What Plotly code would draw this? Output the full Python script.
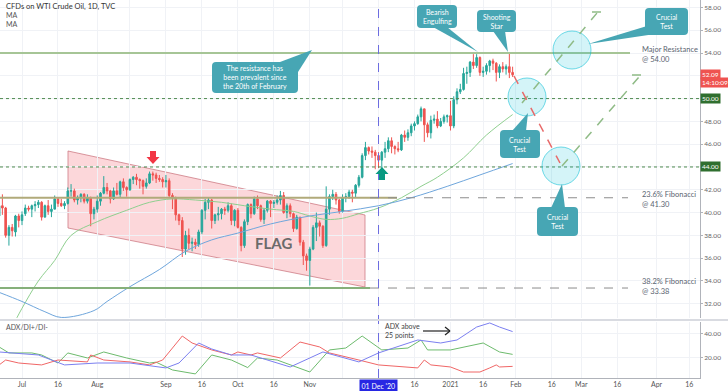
import plotly.graph_objects as go
import pandas as pd

# ---------------- DATA ----------------
dates = pd.bdate_range("2020-06-22", "2021-01-29")
dates = dates[~dates.isin(pd.to_datetime(["2020-12-25", "2021-01-01"]))]

open_ = [
    # Jun 22-30
    39.7, 40.6, 40.4, 38.0, 38.7, 38.3, 39.7,
    # Jul
    39.3, 39.9, 40.4, 40.3, 40.6, 40.7, 40.9, 39.6, 40.6, 40.1, 40.3, 41.2, 40.8, 40.6, 40.8, 41.9, 41.9, 41.1, 41.3, 41.6, 41.0, 41.3, 39.9,
    # Aug
    40.3, 41.0, 41.7, 42.2, 41.9, 41.2, 41.9, 41.6, 42.7, 42.2, 42.0, 42.9, 43.1, 42.9, 42.8, 42.3, 42.6, 43.4, 43.3, 43.0, 42.9,
    # Sep
    42.7, 42.8, 41.5, 41.3, 39.8, 39.3, 36.8, 38.0, 37.3, 37.4, 37.2, 38.3, 40.2, 40.9, 41.1, 39.3, 39.8, 39.9, 40.3, 40.2, 40.6, 39.3,
    # Oct
    40.2, 38.7, 37.1, 39.2, 40.7, 39.9, 41.2, 40.6, 39.4, 40.2, 41.0, 40.8, 40.9, 41.1, 41.5, 40.0, 40.6, 39.9, 38.6, 39.6, 37.4, 36.2,
    # Nov
    35.8, 36.8, 38.7, 39.1, 38.8, 37.1, 40.3, 41.4, 41.6, 41.1, 40.1, 41.3, 41.4, 41.8, 41.7, 42.4, 43.1, 45.0, 45.7, 45.4, 45.3,
    # Dec
    45.0, 44.6, 45.3, 45.6, 46.3, 45.8, 45.6, 45.5, 46.8, 46.6, 47.0, 47.6, 47.8, 48.4, 49.1, 47.7, 47.0, 48.1, 48.2, 47.6, 48.0, 48.4,
    # Jan
    48.5, 47.6, 49.9, 50.6, 50.8, 52.2, 52.3, 53.2, 52.9, 53.6, 52.3, 52.4, 52.9, 53.3, 53.1, 52.3, 52.8, 52.6, 52.8, 52.3,
]
high = [
    40.8, 41.6, 40.5, 38.9, 39.0, 39.8, 39.9,
    40.1, 40.7, 40.6, 40.7, 41.0, 41.1, 41.0, 40.7, 41.1, 40.7, 41.5, 41.3, 41.2, 41.0, 42.2, 42.5, 42.1, 41.5, 41.7, 41.7, 41.6, 41.4, 40.5,
    41.5, 41.8, 43.2, 42.6, 42.0, 42.2, 42.6, 42.8, 43.0, 42.3, 43.0, 43.2, 43.4, 43.0, 42.9, 43.0, 43.6, 43.6, 43.5, 43.3, 43.1,
    43.3, 43.0, 41.7, 41.4, 39.9, 39.6, 38.4, 38.6, 37.8, 37.7, 38.5, 40.3, 41.2, 41.3, 41.2, 39.9, 40.5, 40.4, 40.5, 40.9, 40.8, 40.3,
    40.4, 38.8, 39.4, 40.8, 40.8, 41.4, 41.5, 40.7, 40.4, 41.1, 41.1, 41.1, 41.5, 41.9, 41.8, 40.8, 40.8, 40.0, 39.8, 39.6, 37.6, 36.4,
    37.0, 38.9, 40.0, 39.3, 38.9, 42.3, 41.6, 42.0, 41.8, 41.2, 41.6, 41.7, 42.0, 42.0, 42.5, 43.3, 45.2, 46.2, 45.8, 45.8, 45.5,
    45.3, 45.4, 46.2, 46.6, 46.6, 45.9, 46.2, 46.9, 47.2, 47.3, 47.8, 48.0, 48.6, 49.3, 49.1, 47.9, 48.5, 48.6, 48.9, 48.3, 48.6, 48.6,
    49.8, 50.2, 50.9, 51.3, 52.7, 52.8, 53.3, 53.9, 53.9, 53.7, 52.8, 53.1, 53.4, 53.5, 53.2, 53.0, 53.2, 53.0, 54.0, 52.8,
]
low = [
    39.3, 39.8, 37.8, 37.1, 37.9, 37.9, 38.7,
    38.9, 39.7, 40.1, 39.6, 40.1, 40.4, 39.3, 39.6, 39.8, 39.6, 40.3, 40.5, 40.5, 40.3, 40.7, 41.4, 40.9, 40.7, 40.9, 40.8, 40.8, 38.8, 39.4,
    40.0, 40.6, 41.6, 41.6, 40.8, 41.1, 41.5, 41.3, 41.9, 41.4, 41.9, 42.5, 42.4, 42.1, 41.6, 42.1, 42.5, 42.8, 42.6, 42.7, 42.2,
    42.2, 41.3, 40.3, 39.3, 38.9, 36.1, 36.3, 36.8, 36.6, 36.8, 37.0, 38.1, 39.4, 40.3, 38.6, 39.0, 39.3, 39.4, 39.8, 40.0, 38.9, 38.8,
    38.6, 36.6, 36.9, 38.9, 39.5, 39.8, 40.3, 39.2, 39.0, 40.0, 39.6, 40.4, 40.7, 40.7, 39.9, 39.5, 39.6, 38.3, 38.5, 37.1, 35.4, 34.9,
    33.6, 36.7, 37.5, 37.9, 36.9, 37.0, 39.8, 41.1, 40.7, 39.9, 40.0, 40.9, 41.2, 40.9, 41.3, 42.2, 43.0, 44.6, 45.1, 44.8, 43.8,
    43.9, 43.9, 44.8, 45.3, 45.2, 45.1, 45.3, 45.4, 46.2, 46.3, 46.7, 47.2, 47.7, 48.0, 46.2, 46.6, 46.5, 47.8, 47.4, 47.5, 47.8, 47.9,
    47.2, 47.4, 49.5, 50.4, 50.7, 51.3, 51.9, 52.6, 52.7, 52.0, 51.9, 52.1, 52.3, 52.5, 51.5, 51.8, 52.3, 52.1, 51.8, 51.9,
]
close = [
    40.6, 40.4, 38.0, 38.7, 38.4, 39.7, 39.3,
    39.8, 40.4, 40.3, 40.6, 40.7, 40.9, 39.6, 40.6, 40.1, 40.3, 41.2, 40.8, 40.6, 40.8, 41.9, 41.9, 41.1, 41.3, 41.6, 41.0, 41.3, 39.9, 40.3,
    41.0, 41.7, 42.2, 41.9, 41.2, 41.9, 41.6, 42.7, 42.2, 42.0, 42.9, 43.1, 42.9, 42.8, 42.3, 42.6, 43.4, 43.3, 43.0, 42.9, 42.7,
    42.8, 41.5, 41.3, 39.8, 39.3, 36.8, 38.0, 37.3, 37.4, 37.2, 38.3, 40.2, 40.9, 41.1, 39.3, 39.8, 39.9, 40.3, 40.2, 40.6, 39.3, 40.2,
    38.7, 37.1, 39.2, 40.7, 39.9, 41.2, 40.6, 39.4, 40.2, 41.0, 40.8, 40.9, 41.1, 41.5, 40.0, 40.6, 39.9, 38.6, 39.6, 37.4, 36.2, 35.8,
    36.8, 38.7, 39.1, 38.8, 37.1, 40.3, 41.4, 41.6, 41.1, 40.1, 41.3, 41.4, 41.8, 41.7, 42.4, 43.1, 45.0, 45.7, 45.4, 45.3, 45.0,
    44.6, 45.3, 45.6, 46.3, 45.8, 45.6, 45.5, 46.8, 46.6, 47.0, 47.6, 47.8, 48.4, 49.1, 47.7, 47.0, 48.1, 48.2, 47.6, 48.0, 48.4, 48.5,
    47.6, 49.9, 50.6, 50.8, 52.2, 52.3, 53.2, 52.9, 53.6, 52.3, 52.4, 52.9, 53.3, 53.1, 52.3, 52.8, 52.6, 52.8, 52.3, 52.09,
]

ma50_dates = ["2020-06-22", "2020-06-26", "2020-07-01", "2020-07-08", "2020-07-15", "2020-07-22", "2020-08-03",
              "2020-08-14", "2020-08-25", "2020-09-03", "2020-09-14", "2020-09-24", "2020-10-05", "2020-10-15",
              "2020-10-26", "2020-11-02", "2020-11-09", "2020-11-16", "2020-11-23", "2020-12-01", "2020-12-10",
              "2020-12-18", "2020-12-28", "2021-01-08", "2021-01-19", "2021-01-29"]
ma50_vals = [28.0, 30.0, 31.6, 34.0, 35.8, 38.0, 39.2, 40.2, 40.9, 41.2, 41.1, 40.9, 40.6, 40.3,
             40.1, 39.7, 39.4, 39.5, 39.9, 40.4, 41.3, 42.3, 43.1, 44.8, 46.8, 48.6]

ma100_dates = ["2020-06-22", "2020-07-01", "2020-07-10", "2020-07-17", "2020-07-31", "2020-08-06", "2020-08-17",
               "2020-08-28", "2020-09-09", "2020-09-21", "2020-10-01", "2020-10-15", "2020-11-02", "2020-11-16",
               "2020-12-01", "2020-12-15", "2020-12-31", "2021-01-15", "2021-01-29"]
ma100_vals = [33.0, 32.2, 31.3, 30.8, 31.4, 32.2, 33.5, 35.0, 36.6, 37.6, 38.2, 39.0, 39.7, 40.1,
              40.6, 41.3, 42.3, 43.3, 44.3]

adx_dates = ["2020-06-22", "2020-07-08", "2020-07-20", "2020-08-03", "2020-08-17", "2020-09-01", "2020-09-07",
             "2020-09-15", "2020-09-21", "2020-09-29", "2020-10-07", "2020-10-23", "2020-11-06", "2020-11-23",
             "2020-12-01", "2020-12-17", "2020-12-29", "2021-01-06", "2021-01-14", "2021-01-20", "2021-01-25",
             "2021-01-29"]
adx_vals = [25, 22.5, 14.2, 15.8, 15.8, 11.7, 15.8, 32.5, 27.5, 22.5, 22.5, 12.5, 25, 16.7,
            24.2, 35, 32.5, 35, 45.8, 49.2, 45.8, 42]

dip_dates = ["2020-06-22", "2020-06-25", "2020-07-06", "2020-07-09", "2020-07-16", "2020-07-21", "2020-07-29",
             "2020-08-05", "2020-08-14", "2020-08-25", "2020-08-27", "2020-09-03", "2020-09-14", "2020-09-21",
             "2020-09-29", "2020-10-06", "2020-10-09", "2020-10-19", "2020-11-02", "2020-11-10", "2020-11-17",
             "2020-11-24", "2020-12-02", "2020-12-14", "2020-12-18", "2020-12-22", "2021-01-04", "2021-01-08",
             "2021-01-18", "2021-01-25", "2021-01-29"]
dip_vals = [29.2, 24.2, 24.2, 22.5, 15.8, 24.2, 20, 25, 20, 15.8, 16.5, 10, 6.7, 22.5,
            18.3, 12, 20, 18.3, 8.3, 26.7, 28.3, 38.3, 26.7, 28.3, 35, 26.7, 26.7, 29.2,
            32.5, 25, 23]

dim_dates = ["2020-06-22", "2020-06-24", "2020-06-30", "2020-07-09", "2020-07-16", "2020-07-29", "2020-07-30",
             "2020-08-05", "2020-08-17", "2020-08-25", "2020-08-31", "2020-09-02", "2020-09-08", "2020-09-11",
             "2020-09-21", "2020-09-29", "2020-10-01", "2020-10-07", "2020-10-09", "2020-10-20", "2020-10-28",
             "2020-11-05", "2020-11-10", "2020-11-23", "2020-12-01", "2020-12-17", "2020-12-21", "2020-12-23",
             "2021-01-04", "2021-01-08", "2021-01-15", "2021-01-20", "2021-01-22", "2021-01-25", "2021-01-29"]
dim_vals = [14.2, 18.3, 15.8, 14.2, 18.3, 16.7, 22.5, 18.3, 16.7, 14.2, 18.3, 25, 38.3, 32.5,
            26.7, 22.5, 25, 22.5, 24.2, 20, 33.3, 29.2, 24.2, 18.3, 14.2, 11.7, 18.3, 14.2,
            12.5, 8.3, 8.3, 11.7, 14.2, 12.5, 13]

price_ticks = [32, 34, 36, 38, 40, 42, 44, 46, 48, 50, 52, 54, 56, 58]
adx_ticks = [20, 40]
x_tickvals = ["2020-07-01", "2020-07-16", "2020-08-03", "2020-08-17", "2020-09-01", "2020-09-16", "2020-10-01",
              "2020-10-16", "2020-11-02", "2020-11-16", "2020-12-01", "2020-12-16", "2021-01-04", "2021-01-18",
              "2021-02-01", "2021-02-16", "2021-03-01", "2021-03-16", "2021-04-01", "2021-04-16"]
x_ticktext = ["Jul", "16", "Aug", "", "Sep", "16", "Oct", "16", "Nov", "", "", "16", "2021", "16",
              "Feb", "16", "Mar", "16", "Apr", "16"]

resistance = 54.00
level_50 = 50.00
level_44 = 44.00
fib_236 = 41.30
fib_382 = 33.38
last_price = 52.09

# ---------------- STYLE HELPERS ----------------
W, H = 700.0, 378.0
UP, DN = "#26a69a", "#ef5350"
GRID = "#f0f2f6"
TEAL = "#47a6b4"
FONT = "Lato, 'Open Sans', sans-serif"


def px(x):
    return x / W


def py(y):
    return 1 - y / H


fig = go.Figure()

fig.add_trace(go.Candlestick(
    x=dates, open=open_, high=high, low=low, close=close,
    increasing=dict(line=dict(color=UP, width=1), fillcolor=UP),
    decreasing=dict(line=dict(color=DN, width=1), fillcolor=DN),
    whiskerwidth=0, xaxis="x", yaxis="y", showlegend=False, hoverinfo="skip"))

fig.add_trace(go.Scatter(x=ma50_dates, y=ma50_vals, mode="lines", line=dict(color="#8fcf8f", width=1, shape="spline"),
                         xaxis="x", yaxis="y", showlegend=False, hoverinfo="skip"))
fig.add_trace(go.Scatter(x=ma100_dates, y=ma100_vals, mode="lines", line=dict(color="#6fa6dc", width=1, shape="spline"),
                         xaxis="x", yaxis="y", showlegend=False, hoverinfo="skip"))

fig.add_trace(go.Scatter(x=dip_dates, y=dip_vals, mode="lines", line=dict(color="#6dbb6d", width=1),
                         xaxis="x", yaxis="y2", showlegend=False, hoverinfo="skip"))
fig.add_trace(go.Scatter(x=dim_dates, y=dim_vals, mode="lines", line=dict(color="#f06666", width=1),
                         xaxis="x", yaxis="y2", showlegend=False, hoverinfo="skip"))
fig.add_trace(go.Scatter(x=adx_dates, y=adx_vals, mode="lines", line=dict(color="#7b7ff0", width=1),
                         xaxis="x", yaxis="y2", showlegend=False, hoverinfo="skip"))

shapes = []
annots = []


def hline(price, x0, x1, color, width=1, dash="solid"):
    shapes.append(dict(type="line", xref="paper", yref="y", x0=px(x0), x1=px(x1), y0=price, y1=price,
                       line=dict(color=color, width=width, dash=dash)))


def poly(points, fill, line_color=None, width=0, layer="above"):
    p = "M " + " L ".join(f"{px(x):.5f},{py(y):.5f}" for x, y in points) + " Z"
    shapes.append(dict(type="path", xref="paper", yref="paper", path=p, fillcolor=fill,
                       line=dict(color=line_color or fill, width=width), layer=layer))


def seg(x0, y0, x1, y1, color, width=1, dash="solid"):
    shapes.append(dict(type="line", xref="paper", yref="paper", x0=px(x0), y0=py(y0), x1=px(x1), y1=py(y1),
                       line=dict(color=color, width=width, dash=dash)))


def rrect(x0, y0, x1, y1, fill, r=4):
    rx, ry = r / W, r / H
    X0, X1, Y0, Y1 = px(x0), px(x1), py(y0), py(y1)
    p = (f"M {X0+rx},{Y0} L {X1-rx},{Y0} Q {X1},{Y0} {X1},{Y0-ry} L {X1},{Y1+ry} Q {X1},{Y1} {X1-rx},{Y1} "
         f"L {X0+rx},{Y1} Q {X0},{Y1} {X0},{Y1+ry} L {X0},{Y0-ry} Q {X0},{Y0} {X0+rx},{Y0} Z")
    shapes.append(dict(type="path", xref="paper", yref="paper", path=p, fillcolor=fill, line=dict(width=0)))


def text(x, y, s, size=7, color="#555", anchor="center", bold=False, family=FONT, align="center"):
    annots.append(dict(xref="paper", yref="paper", x=px(x), y=py(y), text=(f"<b>{s}</b>" if bold else s),
                       showarrow=False, xanchor=anchor, yanchor="middle", align=align,
                       font=dict(size=size, color=color, family=family)))


def circle(cx, cy, r):
    shapes.append(dict(type="circle", xref="paper", yref="paper", x0=px(cx - r), x1=px(cx + r),
                       y0=py(cy + r), y1=py(cy - r), fillcolor="rgba(0,188,212,0.17)",
                       line=dict(color="rgba(0,188,212,0.55)", width=1)))


# Flag channel
poly([(68, 151), (365, 215), (365, 287), (68, 228)], "rgba(242,54,69,0.2)", "rgba(200,110,120,0.7)", 1, layer="below")

# Horizontal levels
hline(resistance, 0, 630, "#a6c596", 2)
hline(level_50, 0, 700, "#4f8a4f", 1, "dot")
hline(level_44, 0, 700, "#4f8a4f", 1, "dot")
hline(fib_236, 0, 397, "#b1aa7a", 2)
hline(fib_236, 370, 628, "#8c8c8c", 1, "dash")
hline(fib_382, 0, 370, "#86b07a", 2)
hline(fib_382, 370, 628, "#8c8c8c", 1, "dash")

# crosshair vertical line
shapes.append(dict(type="line", xref="x", yref="paper", x0="2020-12-01", x1="2020-12-01", y0=0, y1=1,
                   line=dict(color="#6b6be0", width=1, dash="dash")))

# pane separator
shapes.append(dict(type="line", xref="paper", yref="paper", x0=0, x1=728 / W, y0=py(320), y1=py(320),
                   line=dict(color="#d9dbe1", width=2)))

# arrows
poly([(150, 151), (156, 151), (156, 157), (159.5, 157), (153, 164), (146.5, 157), (150, 157)], "#f23645")
poly([(382, 167), (388.5, 174), (385, 174), (385, 180), (379, 180), (379, 174), (375.5, 174)], "#089981")

# projection circles
circle(572, 50, 19)
circle(527, 97, 19)
circle(561, 166, 19)

# projection paths
seg(522, 103, 597, 13, "#8fbb86", 1.5, "dash")
seg(592, 12, 601, 12, "#8fbb86", 1.5, "dash")
seg(562, 166, 639, 77, "#8fbb86", 1.5, "dash")
seg(632, 75, 641, 75, "#8fbb86", 1.5, "dash")
seg(514, 76, 560, 163, "#e86a6a", 1.5, "dash")

# callouts
rrect(212, 62, 298, 93, TEAL)
poly([(280, 62), (298, 72), (312, 50)], TEAL)
text(255, 77.5, "The resistance has<br>been prevalent since<br>the 20th of February", 7, "white")

rrect(417, 5, 457, 28, TEAL)
poly([(433, 27), (447, 27), (478, 52)], TEAL)
text(437, 16.5, "Bearish<br>Engulfing", 7, "white")

rrect(477, 10, 516, 32, TEAL)
poly([(493, 31), (505, 31), (508, 52)], TEAL)
text(496.5, 21, "Shooting<br>Star", 7, "white")

rrect(645, 8, 688, 35, TEAL)
poly([(647, 26), (655, 34), (588, 44)], TEAL)
text(666.5, 21.5, "Crucial<br>Test", 7, "white")

rrect(500, 130, 540, 158, TEAL)
poly([(512, 131), (526, 131), (528, 113)], TEAL)
text(520, 144, "Crucial<br>Test", 7, "white")

rrect(537, 207, 578, 236, TEAL)
poly([(551, 208), (565, 208), (562, 184)], TEAL)
text(557.5, 221.5, "Crucial<br>Test", 7, "white")

# level texts
text(640, 54.5, "Major Resistance<br>@ 54.00", 7.5, "#5a6470", "left", align="left")
text(640, 199.5, "23.6% Fibonacci<br>@ 41.30", 7.5, "#5a6470", "left", align="left")
text(640, 286.5, "38.2% Fibonacci<br>@ 33.38", 7.5, "#5a6470", "left", align="left")

text(273, 243, "FLAG", 15, "#6b6b6b", "center", bold=True)

# header legend
text(4, 6.5, "CFDs on WTI Crude Oil, 1D, TVC", 7.5, "#333", "left")
text(4, 15, "MA", 7, "#555", "left")
text(4, 23.5, "MA", 7, "#555", "left")
text(4, 327, "ADX/DI+/DI-", 7, "#555", "left")

# ADX note
text(383, 330.5, "ADX above<br>25 points", 7, "#444", "left", align="left")
seg(423, 331, 450, 331, "#222", 1.2)
seg(445, 327, 450, 331, "#222", 1.2)
seg(445, 335, 450, 331, "#222", 1.2)

# right-hand price labels
annots.append(dict(xref="paper", yref="y", x=1.0, y=last_price, text=f"{last_price:.2f}", showarrow=False,
                   xanchor="left", yanchor="middle", bgcolor="#ef5350", borderpad=1,
                   font=dict(size=6.5, color="white", family=FONT)))
annots.append(dict(xref="paper", yref="paper", x=1.0, y=py(82), text="14:10:09", showarrow=False,
                   xanchor="left", yanchor="middle", bgcolor="#ef5350", borderpad=1,
                   font=dict(size=6.5, color="white", family=FONT)))
for lvl in (level_50, level_44):
    annots.append(dict(xref="paper", yref="y", x=1.0, y=lvl, text=f"{lvl:.2f}", showarrow=False,
                       xanchor="left", yanchor="middle", bgcolor="#2f6f2f", borderpad=1,
                       font=dict(size=6.5, color="white", family=FONT)))

# crosshair date label
annots.append(dict(xref="x", yref="paper", x="2020-12-01", y=py(385.5), text="01 Dec '20", showarrow=False,
                   xanchor="center", yanchor="middle", bgcolor="#2727e3", borderpad=1.5,
                   font=dict(size=7, color="white", family=FONT)))

hidden_price = (level_50, level_44, 52)

fig.update_layout(
    width=728, height=391,
    margin=dict(l=0, r=28, t=0, b=13, pad=0),
    paper_bgcolor="white", plot_bgcolor="white",
    showlegend=False,
    font=dict(family=FONT, size=7, color="#555"),
    shapes=shapes, annotations=annots,
    xaxis=dict(type="date", range=["2020-06-22 06:30", "2021-04-21 07:00"],
               rangebreaks=[dict(bounds=["sat", "mon"]),
                            dict(values=["2020-12-25", "2021-01-01", "2021-04-02"])],
               rangeslider=dict(visible=False), anchor="y2",
               tickmode="array", tickvals=x_tickvals, ticktext=x_ticktext,
               showgrid=True, gridcolor=GRID, gridwidth=1,
               ticks="", showline=True, linecolor="#b0b3ba", linewidth=1,
               tickfont=dict(size=7, color="#555"), zeroline=False, fixedrange=True),
    yaxis=dict(domain=[1 - 318 / H, 1], range=[30.75, 58.65], side="right", anchor="x",
               tickmode="array", tickvals=price_ticks,
               ticktext=["" if v in hidden_price else f"{v:.2f}" for v in price_ticks],
               showgrid=True, gridcolor=GRID, ticks="outside", ticklen=2, tickcolor="#b0b3ba",
               showline=True, linecolor="#b0b3ba", linewidth=1,
               tickfont=dict(size=6.5, color="#666"), zeroline=False),
    yaxis2=dict(domain=[0, 56 / H], range=[3.3, 50], side="right", anchor="x",
                tickmode="array", tickvals=adx_ticks, ticktext=[f"{v:.2f}" for v in adx_ticks],
                showgrid=True, gridcolor=GRID, ticks="outside", ticklen=2, tickcolor="#b0b3ba",
                showline=True, linecolor="#b0b3ba", linewidth=1,
                tickfont=dict(size=6.5, color="#666"), zeroline=False),
)

fig.write_html("out.html", config={"displayModeBar": False},
               post_script="document.body.style.margin='0';document.body.style.overflow='hidden';")
